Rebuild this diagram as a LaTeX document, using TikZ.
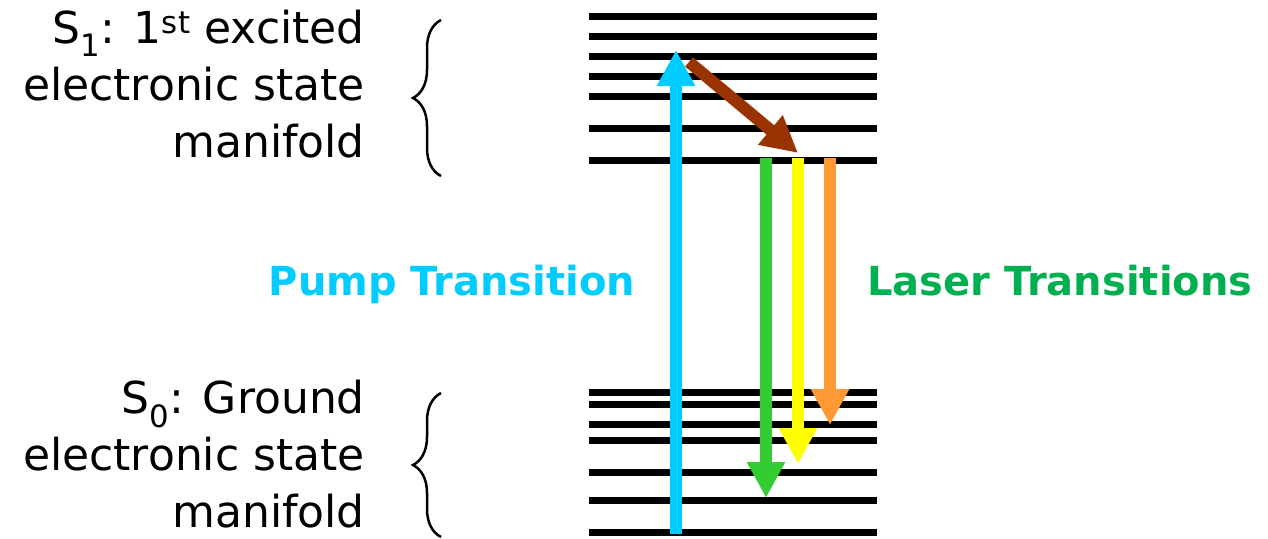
\documentclass[tikz,border=0pt]{standalone}
\usepackage{fontspec}
\setmainfont{DejaVu Sans}
\usetikzlibrary{arrows.meta, decorations.pathreplacing}

\definecolor{pumpblue}{HTML}{00CCFF}
\definecolor{relaxbrown}{HTML}{993300}
\definecolor{lasergreen}{HTML}{33CC33}
\definecolor{laseryellow}{HTML}{FFFF00}
\definecolor{laserorange}{HTML}{FF9933}
\definecolor{titlegreen}{HTML}{00B050}

\begin{document}
\begin{tikzpicture}[
    x=1pt, y=-1pt,
    level/.style={line width=7pt, black},
    trans/.style={line width=12pt, -{Triangle[width=36pt, length=36pt]}},
    manifold/.style={decorate, decoration={brace, amplitude=28pt}, line width=2.5pt},
    statetext/.style={font=\fontsize{44}{57}\selectfont, align=right, anchor=base east, inner sep=0pt},
    transtext/.style={font=\fontsize{40}{48}\selectfont\bfseries, inner sep=0pt},
]
\useasboundingbox (0,0) rectangle (1268,538);

% Vibrational levels of S1 and S0
\foreach \y in {16,36,56,76,96,128,160}
    \draw[level] (589,\y) -- (877,\y);
\foreach \y in {392,404,424,440,472,500,532}
    \draw[level] (589,\y) -- (877,\y);

% End points of the transitions
\coordinate (pumpfrom) at (676,534);
\coordinate (pumpto) at (676,50);
\coordinate (relaxfrom) at (689,62);
\coordinate (relaxto) at (798,153);
\coordinate (greenfrom) at (766,158);
\coordinate (greento) at (766,498);
\coordinate (yellowfrom) at (798,158);
\coordinate (yellowto) at (798,464);
\coordinate (orangefrom) at (830,158);
\coordinate (orangeto) at (830,425);

% Transitions
\draw[trans, pumpblue] (pumpfrom) -- (pumpto);
\draw[trans, relaxbrown] (relaxfrom) -- (relaxto);
\draw[trans, lasergreen] (greenfrom) -- (greento);
\draw[trans, laseryellow] (yellowfrom) -- (yellowto);
\draw[trans, laserorange] (orangefrom) -- (orangeto);

% Labels
\node[transtext, pumpblue, anchor=base] (pumplabel) at (452,295) {Pump Transition};
\node[transtext, titlegreen, anchor=base west] (laserlabel) at (867,295) {Laser Transitions};

% Manifolds (base = last line)
\node[statetext] (s1text) at (365,157) {S\textsubscript{1}: 1\textsuperscript{st} excited\\electronic state\\manifold};
\node[statetext] (s0text) at (365,527) {S\textsubscript{0}: Ground\\electronic state\\manifold};
\coordinate (s1top) at (441,20);
\coordinate (s1bot) at (441,176);
\coordinate (s0top) at (441,393);
\coordinate (s0bot) at (441,537);
\draw[manifold] (s1bot) -- (s1top);
\draw[manifold] (s0bot) -- (s0top);

\end{tikzpicture}
\end{document}
